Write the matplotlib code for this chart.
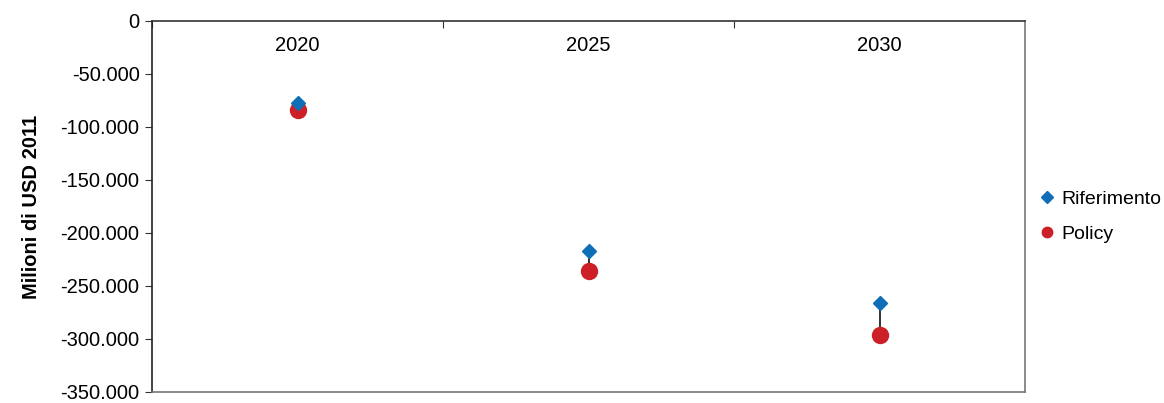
import matplotlib.pyplot as plt
import numpy as np
from matplotlib.ticker import FuncFormatter
from matplotlib.lines import Line2D
import matplotlib.transforms as mtransforms

plt.rcParams['font.family'] = ['Liberation Sans', 'DejaVu Sans']

years = ['2020', '2025', '2030']
riferimento = [-77000, -217000, -266000]
policy = [-84000, -236000, -296000]

blue = '#0e6fb8'
red = '#cc1f27'

fig = plt.figure(figsize=(11.64, 4.03), dpi=100)
ax = fig.add_axes([0.1306, 0.0273, 0.75, 0.9206])

x = np.arange(len(years))

# connecting lines between the two scenarios
ax.vlines(x, policy, riferimento, color='#222222', linewidth=1.3, zorder=1)
ax.plot(x, riferimento, linestyle='none', marker='D', markersize=7,
        color=blue, zorder=3)
ax.plot(x, policy, linestyle='none', marker='o', markersize=11.5,
        color=red, zorder=2)

ax.set_xlim(-0.5, 2.5)
ax.set_ylim(-350000, 0)
ax.set_yticks(np.arange(-350000, 1, 50000))


def fmt(v, pos):
    s = '{:,.0f}'.format(v).replace(',', '.')
    return s


ax.yaxis.set_major_formatter(FuncFormatter(fmt))
ax.tick_params(axis='y', direction='out', length=5, labelsize=14.5, pad=4,
               color='#333333')

# category axis sits at y=0 (top), labels below it
ax.xaxis.tick_top()
ax.set_xticks([-0.5, 0.5, 1.5])
ax.set_xticklabels([])
ax.tick_params(axis='x', direction='in', length=5, color='#333333')
trans = mtransforms.blended_transform_factory(ax.transData, ax.transAxes)
for xi, yr in zip(x, years):
    ax.text(xi, 0.935, yr, transform=trans, ha='center', va='center', fontsize=14.5)

ax.spines['left'].set_color('#222222')
ax.spines['top'].set_color('#333333')
ax.spines['right'].set_color('#777777')
ax.spines['bottom'].set_color('#777777')
for s in ax.spines.values():
    s.set_linewidth(1.2)

ax.set_ylabel('Milioni di USD 2011', fontsize=14.5, fontweight='bold', labelpad=14)

handles = [Line2D([], [], linestyle='none', marker='D', markersize=6, color=blue),
           Line2D([], [], linestyle='none', marker='o', markersize=7.5, color=red)]
ax.legend(handles, ['Riferimento', 'Policy'], loc='center left',
          bbox_to_anchor=(1.0137, 0.472), frameon=False, fontsize=14,
          borderpad=0, borderaxespad=0, handletextpad=0.25,
          labelspacing=0.9, handlelength=1.0)

fig.savefig('out.png', dpi=100)
